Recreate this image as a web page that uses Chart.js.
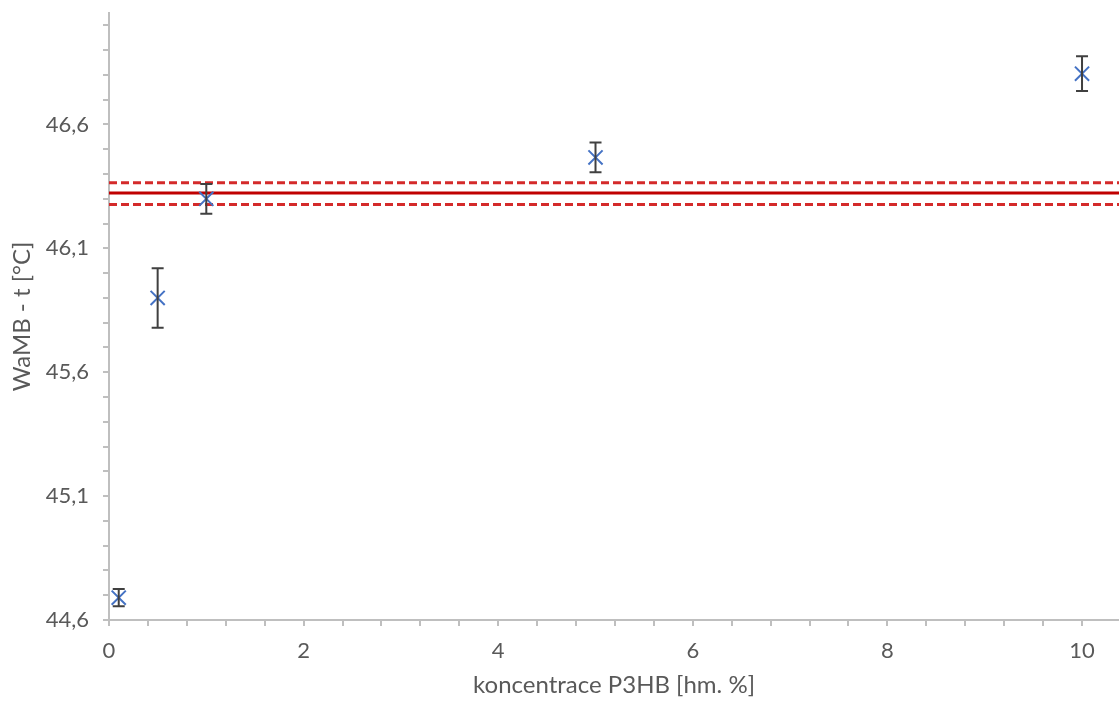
<!DOCTYPE html>
<html>
<head>
<meta charset="utf-8">
<script src="https://cdn.jsdelivr.net/npm/chart.js@4"></script>
<style>
    html, body { margin: 0; padding: 0; background: #fff; }
    #wrap { width: 1119px; height: 704px; }
</style>
</head>
<body>
<div id="wrap"><canvas id="chart" width="1119" height="704"></canvas></div>
<script>
// concentrations and measured temperatures
const concentrations = [0.1, 0.5, 1, 5, 10];
const temperatures = [44.69, 45.90, 46.30, 46.467, 46.805];
const errors = [0.035, 0.12, 0.06, 0.06, 0.07];

// reference (pure) sample: mean and +/- band
const refMean = 46.323;
const refUpper = 46.365;
const refLower = 46.277;
const refRange = [0, 10.38];

const xTickStep = 0.4;
const yTickStep = 0.1;

const textColor = '#595959';
const axisColor = '#bfbfbf';
const tickFont = { family: 'Lato', size: 22 };
const titleFont = { family: 'Lato', size: 24 };

const errorBars = {
    id: 'errorBars',
    afterDatasetsDraw(chart) {
        const ctx = chart.ctx;
        const x = chart.scales.x;
        const y = chart.scales.y;
        ctx.save();
        ctx.strokeStyle = '#404040';
        ctx.lineWidth = 2;
        concentrations.forEach((c, i) => {
            const px = x.getPixelForValue(c);
            const top = y.getPixelForValue(temperatures[i] + errors[i]);
            const bot = y.getPixelForValue(temperatures[i] - errors[i]);
            ctx.beginPath();
            ctx.moveTo(px, top);
            ctx.lineTo(px, bot);
            ctx.moveTo(px - 6, top);
            ctx.lineTo(px + 6, top);
            ctx.moveTo(px - 6, bot);
            ctx.lineTo(px + 6, bot);
            ctx.stroke();
        });
        ctx.restore();
    }
};

const refLine = (val, color, dash) => ({
    type: 'line',
    data: refRange.map(r => ({ x: r, y: val })),
    borderColor: color,
    borderWidth: 3,
    borderDash: dash,
    pointRadius: 0,
    fill: false
});

new Chart(document.getElementById('chart'), {
    type: 'scatter',
    data: {
        datasets: [
            {
                data: concentrations.map((c, i) => ({ x: c, y: temperatures[i] })),
                pointStyle: 'crossRot',
                pointRadius: 10,
                borderColor: '#4472C4',
                borderWidth: 2,
                order: 0
            },
            refLine(refMean, '#C00000', []),
            refLine(refUpper, '#D42A2A', [8, 4]),
            refLine(refLower, '#D42A2A', [8, 4])
        ]
    },
    options: {
        responsive: false,
        animation: false,
        layout: { autoPadding: false, padding: { top: 13, right: 0, left: 0, bottom: 0 } },
        plugins: {
            legend: { display: false },
            tooltip: { enabled: false }
        },
        scales: {
            x: {
                type: 'linear',
                min: 0,
                max: refRange[1],
                afterFit: s => { s.height = 84; s.paddingRight = 0; s.paddingLeft = 0; },
                border: { color: axisColor, width: 2 },
                grid: { drawOnChartArea: false, color: axisColor, tickLength: 6, lineWidth: 2 },
                ticks: {
                    stepSize: xTickStep,
                    includeBounds: false,
                    autoSkip: false,
                    maxRotation: 0,
                    color: textColor,
                    font: tickFont,
                    padding: 12,
                    callback: v => Math.abs(v / 2 - Math.round(v / 2)) < 1e-6 ? String(Math.round(v)) : ''
                },
                title: {
                    display: true,
                    text: 'koncentrace P3HB [hm. %]',
                    color: textColor,
                    font: titleFont,
                    padding: { top: 4 }
                }
            },
            y: {
                min: 44.6,
                max: 47.05,
                afterFit: s => { s.width = 109; s.paddingTop = 0; s.paddingBottom = 0; },
                border: { color: axisColor, width: 2 },
                grid: { drawOnChartArea: false, color: axisColor, tickLength: 6, lineWidth: 2 },
                ticks: {
                    stepSize: yTickStep,
                    includeBounds: false,
                    autoSkip: false,
                    color: textColor,
                    font: tickFont,
                    padding: 14,
                    callback: v => {
                        const k = Math.round((v - 44.6) * 10);
                        return k % 5 === 0 ? v.toFixed(1).replace('.', ',') : '';
                    }
                },
                title: {
                    display: true,
                    text: 'WaMB - t [°C]',
                    color: textColor,
                    font: titleFont,
                    padding: { top: 8, bottom: 0 }
                }
            }
        }
    },
    plugins: [errorBars]
});
</script>
</body>
</html>
